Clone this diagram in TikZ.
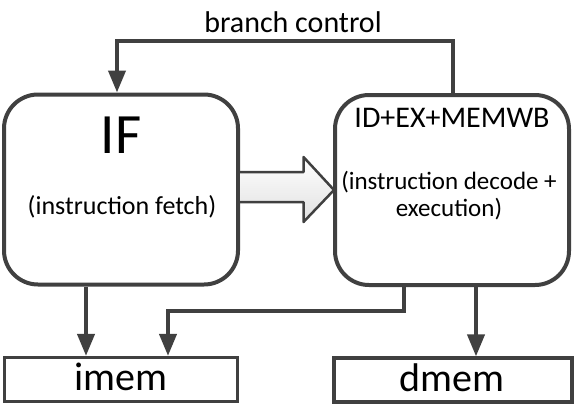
\documentclass[tikz,border=0pt]{standalone}
\usepackage{fontspec}
\setmainfont{Carlito}
\usetikzlibrary{arrows.meta,calc}
\definecolor{ln}{HTML}{404040}
\begin{document}
\begin{tikzpicture}[x=1pt,y=-1pt,
  stage/.style={draw=ln,line width=4pt,rounded corners=34pt,minimum width=234pt,minimum height=190pt,inner sep=0pt,fill=white},
  mem/.style={draw=ln,line width=3.2pt,minimum width=234pt,minimum height=44pt,inner sep=0pt},
  conn/.style={draw=ln,line width=4pt,-{Triangle[length=22pt,width=17pt]}},
  txt/.style={inner sep=0pt,text=black,align=center}]
\useasboundingbox (0,0) rectangle (575,408);
% boxes
\node[stage] (IF) at (121,189.5) {};
\node[stage] (ID) at (452,190) {};
\node[mem,minimum width=233pt] (imem) at (121,379.5) {};
\node[mem,minimum width=238pt] (dmem) at (453,380) {};
% texts
\node[txt,font=\fontsize{30}{32}\selectfont] (bc) at (293,22) {branch control};
\node[txt,font=\fontsize{57}{60}\selectfont] (iftxt) at (121,135) {IF};
\node[txt,font=\fontsize{26}{28}\selectfont] (iffull) at (122,207) {(instruction fetch)};
\node[txt,font=\fontsize{30}{32}\selectfont] (idtxt) at (452,118) {ID+EX+MEMWB};
\node[txt,font=\fontsize{25}{27}\selectfont] (idfull) at (449,196) {(instruction decode +\\execution)};
\node[txt,font=\fontsize{40}{42}\selectfont] (imtxt) at (121,377) {imem};
\node[txt,font=\fontsize{40}{42}\selectfont] (dmtxt) at (452,378) {dmem};
% fat arrow IF -> ID
\draw[draw=ln,line width=2.5pt,line join=round,top color=white,bottom color=black!12]
  ($(IF.east)+(0,-17.5)$) -- ($(IF.east)+(63.5,-17.5)$) -- ($(IF.east)+(63.5,-32.5)$)
  -- ($(ID.west)+(1,0)$) -- ($(IF.east)+(63.5,32.5)$) -- ($(IF.east)+(63.5,12.5)$)
  -- ($(IF.east)+(0,12.5)$);
% branch control feedback
\coordinate (b1) at ($(ID.north)+(1,0)$);
\coordinate (b2) at ($(IF.north)+(-4,0)$);
\draw[conn] (b1) -- ++(0,-52) -| (b2);
% IF -> imem
\draw[conn] ($(IF.south)+(-35,0)$) -- ($(imem.north)+(-35,0)$);
% ID -> imem
\coordinate (c1) at ($(ID.south)+(-48,0)$);
\coordinate (c2) at ($(imem.north)+(47,0)$);
\draw[conn] (c1) -- ++(0,24) -| (c2);
% ID -> dmem
\coordinate (d1) at ($(ID.south)+(24,0)$);
\draw[conn] (d1) -- (d1 |- dmem.north);
\end{tikzpicture}
\end{document}
